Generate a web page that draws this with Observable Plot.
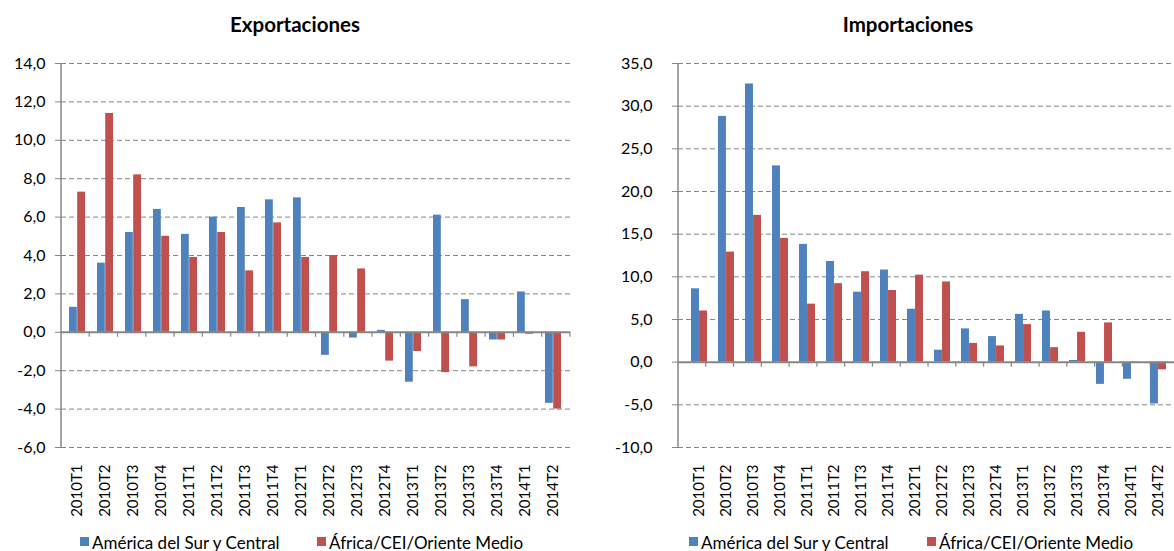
<!DOCTYPE html>
<html><head><meta charset="utf-8">
<script src="https://cdn.jsdelivr.net/npm/d3@7"></script>
<script src="https://cdn.jsdelivr.net/npm/@observablehq/plot@0.6"></script>
<style>
html,body{margin:0;padding:0;}
body{width:1174px;height:551px;overflow:hidden;background:#fff;font-family:Lato,"Open Sans",sans-serif;position:relative;color:#000}
.t{position:absolute;font-weight:bold;font-size:20.5px;transform:translateX(-50%);top:12px;white-space:nowrap}
.c{position:absolute;top:45px}
.c svg{max-width:none !important;}
.lg{position:absolute;top:533.5px;font-size:17px;white-space:nowrap;line-height:18px}
.sw{display:inline-block;width:9px;height:9px;margin-right:3px;vertical-align:3px}
</style></head><body>
<div class="t" style="left:295px">Exportaciones</div>
<div class="t" style="left:908px">Importaciones</div>
<div class="c" id="left" style="left:0px;width:587px"></div>
<div class="c" id="right" style="left:587px;width:600px"></div>
<div id="legends"></div>
<script>
const categories = ["2010T1","2010T2","2010T3","2010T4","2011T1","2011T2","2011T3","2011T4","2012T1","2012T2","2012T3","2012T4","2013T1","2013T2","2013T3","2013T4","2014T1","2014T2"];
const seriesNames = ["América del Sur y Central", "África/CEI/Oriente Medio"];
const seriesColors = ["#4F81BD", "#C0504D"];
const expAmerica = [1.3, 3.6, 5.2, 6.4, 5.1, 6.0, 6.5, 6.9, 7.0, -1.2, -0.3, 0.1, -2.6, 6.1, 1.7, -0.4, 2.1, -3.7];
const expAfrica  = [7.3, 11.4, 8.2, 5.0, 3.9, 5.2, 3.2, 5.7, 3.9, 4.0, 3.3, -1.5, -1.0, -2.1, -1.8, -0.4, -0.1, -4.0];
const impAmerica = [8.6, 28.8, 32.6, 23.0, 13.8, 11.8, 8.2, 10.8, 6.2, 1.4, 3.9, 3.0, 5.6, 6.0, 0.2, -2.6, -2.0, -4.9];
const impAfrica  = [6.0, 12.9, 17.2, 14.5, 6.8, 9.2, 10.6, 8.4, 10.2, 9.4, 2.2, 1.9, 4.4, 1.7, 3.5, 4.6, -0.1, -0.9];
const expTicks = [-6, -4, -2, 0, 2, 4, 6, 8, 10, 12, 14];
const impTicks = [-10, -5, 0, 5, 10, 15, 20, 25, 30, 35];

const fmt = d => d.toFixed(1).replace(".", ",");
const GRAY = "#868686";

function chart(a, b, ticks, o) {
  const n = categories.length;
  const rows = categories.map((c, i) => ({cat: c, a: a[i], b: b[i]}));
  const pad = 0.42;
  const step = (o.width - o.marginLeft - o.marginRight) / n;
  const half = step * (1 - pad) / 2;
  const excelAxis = (index, scales, values, dims) => {
    const g = d3.create("svg:g");
    const x0 = dims.marginLeft, x1 = dims.width - dims.marginRight;
    const y0 = scales.y(0);
    const st = (x1 - x0) / n;
    g.append("line").attr("x1", x0).attr("x2", x0)
      .attr("y1", dims.marginTop).attr("y2", dims.height - dims.marginBottom)
      .attr("stroke", GRAY).attr("stroke-width", 1.5);
    for (let i = 1; i <= n; i++) {
      g.append("line").attr("x1", x0 + i * st).attr("x2", x0 + i * st)
        .attr("y1", y0).attr("y2", y0 + 5).attr("stroke", GRAY).attr("stroke-width", 1.2);
    }
    return g.node();
  };
  return Plot.plot({
    width: o.width, height: 480,
    marginTop: 18, marginBottom: 78, marginLeft: o.marginLeft, marginRight: o.marginRight,
    style: {fontFamily: "Lato, 'Open Sans', sans-serif", color: "#000", background: "transparent", overflow: "visible", maxWidth: "none"},
    x: {domain: categories, paddingInner: pad, paddingOuter: pad / 2, label: null},
    y: {domain: [ticks[0], ticks[ticks.length - 1]], label: null},
    marks: [
      Plot.gridY(ticks.filter(t => t !== 0), {stroke: GRAY, strokeOpacity: 1, strokeWidth: 1, strokeDasharray: "5,3"}),
      Plot.barY(rows, {x: "cat", y: "a", fill: seriesColors[0], insetRight: half}),
      Plot.barY(rows, {x: "cat", y: "b", fill: seriesColors[1], insetLeft: half}),
      Plot.ruleY([0], {stroke: GRAY, strokeWidth: 2}),
      excelAxis,
      Plot.axisY({ticks, tickFormat: fmt, tickSize: 6, tickPadding: o.tickPadding, fontSize: 16, stroke: GRAY, label: null}),
      Plot.axisX({tickRotate: -90, tickSize: 0, tickPadding: 17, fontSize: 15, label: null})
    ]
  });
}

document.getElementById("left").appendChild(chart(expAmerica, expAfrica, expTicks, {width: 587, marginLeft: 61, marginRight: 17, tickPadding: 10}));
document.getElementById("right").appendChild(chart(impAmerica, impAfrica, impTicks, {width: 600, marginLeft: 91, marginRight: 9, tickPadding: 20}));

const legendPos = [[80, 317], [689, 927]];
const lg = document.getElementById("legends");
legendPos.forEach(pos => {
  pos.forEach((x, i) => {
    const d = document.createElement("div");
    d.className = "lg";
    d.style.left = x + "px";
    const s = document.createElement("span");
    s.className = "sw";
    s.style.background = seriesColors[i];
    d.appendChild(s);
    d.appendChild(document.createTextNode(seriesNames[i]));
    lg.appendChild(d);
  });
});
</script>
</body></html>
